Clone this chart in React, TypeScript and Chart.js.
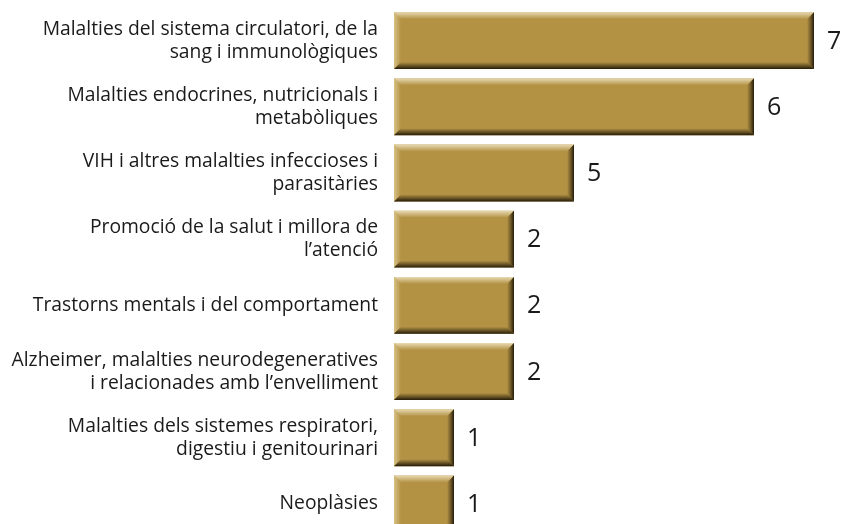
import React, { useEffect, useRef } from "react";
import { Chart, registerables } from "chart.js";

Chart.register(...registerables);

const categories: string[][] = [
  ["Malalties del sistema circulatori, de la", "sang i immunològiques"],
  ["Malalties endocrines, nutricionals i", "metabòliques"],
  ["VIH i altres malalties infeccioses i", "parasitàries"],
  ["Promoció de la salut i millora de", "l’atenció"],
  ["Trastorns mentals i del comportament"],
  ["Alzheimer, malalties neurodegeneratives", "i relacionades amb l’envelliment"],
  ["Malalties dels sistemes respiratori,", "digestiu i genitourinari"],
  ["Neoplàsies"],
];

// bar lengths as drawn in the reference
const barValues: number[] = [7, 6, 3, 2, 2, 2, 1, 1];
// value labels as printed in the reference
const valueLabels: string[] = ["7", "6", "5", "2", "2", "2", "1", "1"];

const FONT = "'Open Sans', 'Noto Sans', sans-serif";

const bevelPlugin = {
  id: "bevel",
  afterDatasetsDraw(chart: any) {
    const ctx = chart.ctx as CanvasRenderingContext2D;
    const meta = chart.getDatasetMeta(0);
    meta.data.forEach((bar: any) => {
      const p = bar.getProps(["x", "y", "base", "height"], true);
      const left = p.base;
      const right = p.x;
      const top = p.y - p.height / 2;
      const bottom = p.y + p.height / 2;
      const b = 7;
      ctx.save();
      let g = ctx.createLinearGradient(0, top, 0, top + b);
      g.addColorStop(0, "rgba(235,222,185,0.95)");
      g.addColorStop(1, "rgba(235,222,185,0)");
      ctx.fillStyle = g;
      ctx.beginPath();
      ctx.moveTo(left, top);
      ctx.lineTo(right, top);
      ctx.lineTo(right - b, top + b);
      ctx.lineTo(left + b, top + b);
      ctx.closePath();
      ctx.fill();
      g = ctx.createLinearGradient(left, 0, left + b, 0);
      g.addColorStop(0, "rgba(225,205,150,0.8)");
      g.addColorStop(1, "rgba(225,205,150,0)");
      ctx.fillStyle = g;
      ctx.beginPath();
      ctx.moveTo(left, top);
      ctx.lineTo(left + b, top + b);
      ctx.lineTo(left + b, bottom - b);
      ctx.lineTo(left, bottom);
      ctx.closePath();
      ctx.fill();
      g = ctx.createLinearGradient(0, bottom - b, 0, bottom);
      g.addColorStop(0, "rgba(40,30,10,0)");
      g.addColorStop(0.55, "rgba(40,30,10,0.55)");
      g.addColorStop(1, "rgba(35,26,8,1)");
      ctx.fillStyle = g;
      ctx.beginPath();
      ctx.moveTo(left, bottom);
      ctx.lineTo(left + b, bottom - b);
      ctx.lineTo(right - b, bottom - b);
      ctx.lineTo(right, bottom);
      ctx.closePath();
      ctx.fill();
      g = ctx.createLinearGradient(right - b, 0, right, 0);
      g.addColorStop(0, "rgba(40,30,10,0)");
      g.addColorStop(0.55, "rgba(40,30,10,0.5)");
      g.addColorStop(1, "rgba(35,26,8,1)");
      ctx.fillStyle = g;
      ctx.beginPath();
      ctx.moveTo(right, top);
      ctx.lineTo(right, bottom);
      ctx.lineTo(right - b, bottom - b);
      ctx.lineTo(right - b, top + b);
      ctx.closePath();
      ctx.fill();
      ctx.restore();
    });
  },
  afterDraw(chart: any) {
    const ctx = chart.ctx as CanvasRenderingContext2D;
    const meta = chart.getDatasetMeta(0);
    ctx.save();
    meta.data.forEach((bar: any, i: number) => {
      const p = bar.getProps(["x", "y", "base"], true);
      ctx.fillStyle = "#1a1a1a";
      ctx.font = `19.3px ${FONT}`;
      ctx.textAlign = "right";
      ctx.textBaseline = "middle";
      const lines = categories[i];
      const lh = 23;
      const start = p.y - ((lines.length - 1) * lh) / 2;
      lines.forEach((ln, j) => ctx.fillText(ln, p.base - 16, start + j * lh));
      ctx.font = `25px ${FONT}`;
      ctx.textAlign = "left";
      ctx.fillText(valueLabels[i], p.x + 13, p.y + 1);
    });
    ctx.restore();
  },
};

export default function App() {
  const ref = useRef<HTMLCanvasElement>(null);
  useEffect(() => {
    document.body.style.margin = "0";
    const chart = new Chart(ref.current!, {
      type: "bar",
      data: {
        labels: categories.map((c) => c.join(" ")),
        datasets: [
          {
            data: barValues,
            backgroundColor: "#b39244",
            borderWidth: 0,
            barPercentage: 0.86,
            categoryPercentage: 1,
          },
        ],
      },
      options: {
        indexAxis: "y",
        animation: false,
        responsive: false,
        maintainAspectRatio: false,
        layout: { padding: { left: 394, right: 0, top: 7.5, bottom: 3 } },
        plugins: { legend: { display: false }, tooltip: { enabled: false } },
        scales: {
          x: { display: false, min: 0, max: 449 / 60 },
          y: { display: false },
        },
      },
      plugins: [bevelPlugin],
    });
    return () => chart.destroy();
  }, []);
  return (
    <div style={{ width: 843, height: 524, overflow: "hidden", background: "#fff" }}>
      <canvas ref={ref} width={843} height={540} style={{ display: "block" }} />
    </div>
  );
}
